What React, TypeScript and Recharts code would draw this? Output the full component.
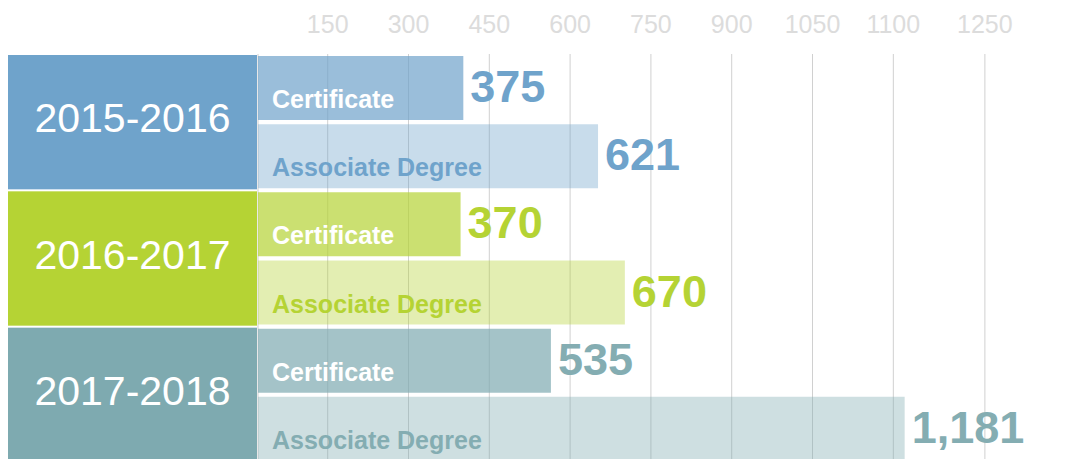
import { BarChart, Bar, XAxis, YAxis, CartesianGrid, Cell, LabelList } from 'recharts';

const years = ['2015-2016', '2016-2017', '2017-2018'];
const degrees = ['Certificate', 'Associate Degree'];
const certificateCounts = [375, 370, 535];
const associateCounts = [621, 670, 1181];
// gridline values and the labels printed above them (as in the original)
const gridTicks = [150, 300, 450, 600, 750, 900, 1050, 1200, 1370];
const tickLabels = ['150', '300', '450', '600', '750', '900', '1050', '1100', '1250'];

const yearColors = ['#6fa3cb', '#b5d334', '#7eaab0'];
const textColors = ['#6fa3cb', '#b5d334', '#84adb2'];

const rows = years.flatMap((year, i) => [
  { id: `${year}-cert`, year, yearIndex: i, degree: degrees[0], value: certificateCounts[i] },
  { id: `${year}-assoc`, year, yearIndex: i, degree: degrees[1], value: associateCounts[i] },
]);

const WIDTH = 1062;
const HEIGHT = 455;
const AXIS_H = 46;
const ROW = (HEIGHT - AXIS_H) / rows.length;
const FONT = '"Liberation Sans", Arial, sans-serif';

function YearTick(props: any) {
  const { y, index } = props;
  if (index % 2 !== 0) return <g />;
  const row = rows[index];
  const top = y - ROW / 2 + 1;
  const h = ROW * 2 - 2;
  return (
    <g>
      <rect x={0} y={top} width={249} height={h} fill={yearColors[row.yearIndex]} />
      <text x={124.5} y={top + h / 2 + 10} textAnchor="middle" fill="#fff" fontSize={41} fontFamily={FONT}>
        {row.year}
      </text>
    </g>
  );
}

function TopTick(props: any) {
  const { x, index } = props;
  return (
    <text x={x} y={25} textAnchor="middle" fill="#dcdcdc" fontSize={25} fontFamily={FONT}>
      {tickLabels[index]}
    </text>
  );
}

function NameLabel(props: any) {
  const { x, y, height, index } = props;
  const row = rows[index];
  const isCert = index % 2 === 0;
  return (
    <text
      x={x + 14}
      y={y + height - 12}
      fill={isCert ? '#fff' : textColors[row.yearIndex]}
      fontSize={25}
      fontWeight="bold"
      fontFamily={FONT}
    >
      {row.degree}
    </text>
  );
}

function ValueLabel(props: any) {
  const { x, y, width, height, value, index } = props;
  return (
    <text
      x={x + width + 7}
      y={y + height - 18}
      fill={textColors[rows[index].yearIndex]}
      fontSize={45}
      fontWeight="bold"
      fontFamily={FONT}
    >
      {Number(value).toLocaleString('en-US')}
    </text>
  );
}

export default function App() {
  return (
    <div style={{ fontFamily: FONT }}>
      <style>{`html, body { overflow: hidden; }`}</style>
      <BarChart
        width={WIDTH}
        height={HEIGHT}
        data={rows}
        layout="vertical"
        margin={{ top: 0, right: 0, bottom: 0, left: 0 }}
        barCategoryGap={2}
      >
        <CartesianGrid xAxisId="grid" horizontal={false} stroke="#d0d0d0" />
        <XAxis
          xAxisId="grid"
          type="number"
          orientation="top"
          domain={[20.6, 1528]}
          allowDataOverflow
          ticks={gridTicks}
          interval={0}
          height={AXIS_H}
          axisLine={false}
          tickLine={false}
          tick={<TopTick />}
        />
        <XAxis xAxisId="bar" type="number" domain={[0, 1483]} hide />
        <YAxis
          type="category"
          dataKey="id"
          width={250}
          interval={0}
          axisLine={false}
          tickLine={false}
          tick={<YearTick />}
        />
        <Bar xAxisId="bar" dataKey="value" isAnimationActive={false}>
          {rows.map((r, i) => (
            <Cell key={r.id} fill={yearColors[r.yearIndex]} fillOpacity={i % 2 === 0 ? 0.7 : 0.38} />
          ))}
          <LabelList dataKey="degree" content={NameLabel} />
          <LabelList dataKey="value" content={ValueLabel} />
        </Bar>
      </BarChart>
    </div>
  );
}
